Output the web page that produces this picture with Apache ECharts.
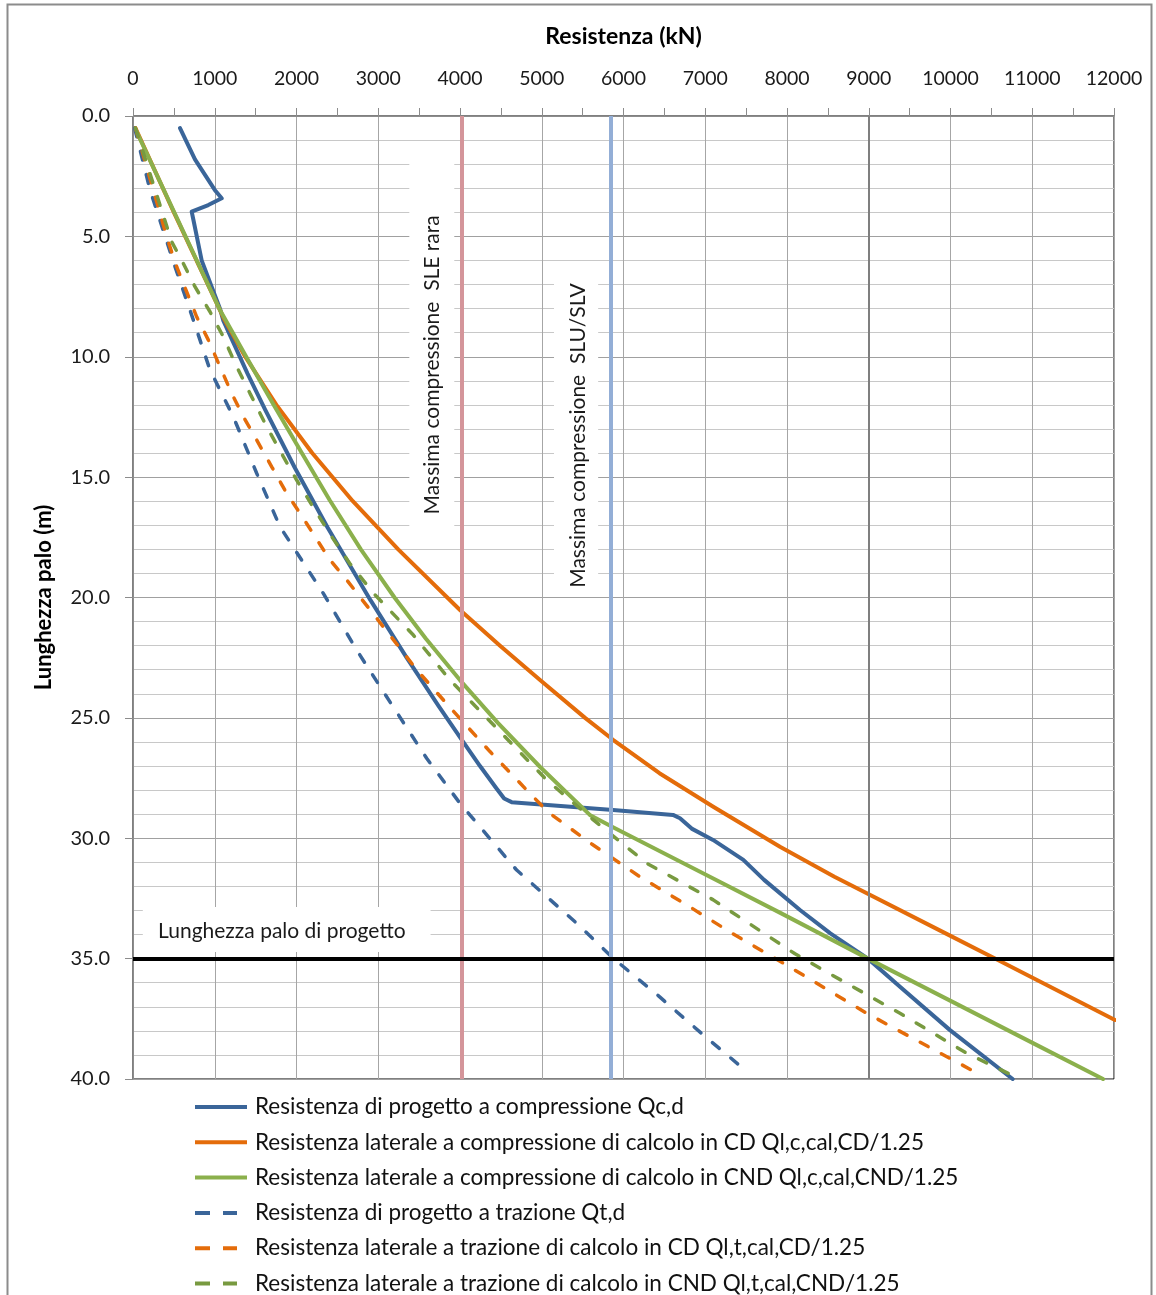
<!DOCTYPE html>
<html>
<head>
<meta charset="utf-8">
<title>Resistenza palo</title>
<script src="https://cdn.jsdelivr.net/npm/echarts@6/dist/echarts.min.js"></script>
<style>
  html, body { margin: 0; padding: 0; background: #ffffff; }
  #chart { width: 1156px; height: 1295px; }
</style>
</head>
<body>
<div id="chart"></div>
<script>
// Pile resistance (kN) versus pile length (m)

// Resistenza di progetto a compressione Qc,d
const depthQcd = [0.5, 1.8, 3.07, 3.42, 3.7, 3.97, 4.3, 6.0, 8.0, 8.5, 10.7, 12.2, 14.6, 17.1, 20.1, 22.5, 24.5, 25.9, 27.0, 27.9, 28.35, 28.5, 28.83, 29.03, 29.17, 29.6, 30.07, 30.9, 31.73, 32.98, 33.95, 35.0, 36.17, 37.97, 40.0];
const valQcd   = [575, 758, 1000, 1085, 921, 718, 738, 840, 1064, 1105, 1401, 1616, 1978, 2382, 2903, 3347, 3737, 4020, 4245, 4440, 4540, 4632, 5872, 6606, 6691, 6834, 7095, 7466, 7720, 8159, 8530, 8990, 9382, 9994, 10760];

// Resistenza laterale a compressione di calcolo in CD
const depthQlcCD = [0.5, 4.0, 8.4, 10.0, 12.0, 14.0, 16.0, 18.0, 20.52, 22.0, 23.43, 25.0, 25.92, 27.3, 28.69, 30.35, 31.6, 33.95, 35.06, 37.55];
const valQlcCD   = [30, 500, 1110, 1373, 1754, 2192, 2689, 3244, 4000, 4490, 4979, 5530, 5876, 6440, 7098, 7914, 8580, 9940, 10580, 12012];

// Resistenza laterale a compressione di calcolo in CND
const depthQlcCND = [0.5, 4.0, 8.06, 10.0, 12.0, 14.0, 15.95, 18.0, 20.0, 21.7, 23.43, 25.2, 27.03, 29.03, 29.52, 31.6, 33.12, 35.0, 36.86, 38.52, 40.0];
const valQlcCND   = [24, 505, 1064, 1385, 1722, 2065, 2405, 2787, 3199, 3581, 3999, 4460, 4977, 5588, 5860, 7056, 7930, 8991, 10061, 11015, 11866];

// Resistenza di progetto a trazione Qt,d
const depthQtd = [0.5, 3.07, 6.26, 8.27, 10.55, 12.49, 14.84, 17.06, 19.83, 22.18, 23.91, 26.68, 28.55, 31.32, 33.53, 34.99, 36.6, 38.14, 39.74];
const valQtd   = [20, 208, 514, 718, 942, 1227, 1513, 1798, 2328, 2736, 3062, 3592, 4000, 4693, 5427, 5876, 6446, 6966, 7527];

// Resistenza laterale a trazione di calcolo in CD
const depthQltCD = [0.5, 5.15, 6.26, 7.3, 8.34, 9.3, 10.41, 11.52, 12.49, 13.46, 14.57, 15.67, 16.5, 17.47, 18.44, 19.27, 21.2, 23.0, 24.6, 26.4, 28.07, 28.92, 30.24, 31.6, 32.77, 33.98, 35.19, 37.27, 39.8];
const valQltCD   = [30, 424, 534, 656, 779, 921, 1064, 1207, 1350, 1513, 1697, 1880, 2043, 2226, 2410, 2614, 3058, 3470, 3886, 4367, 4836, 5080, 5611, 6202, 6773, 7343, 7955, 8975, 10350];

// Resistenza laterale a trazione di calcolo in CND
const depthQltCND = [0.5, 5.22, 6.12, 7.09, 8.13, 9.17, 10.27, 11.52, 12.9, 14.15, 15.12, 16.37, 17.47, 18.58, 19.83, 21.56, 23.43, 25.5, 27.58, 29.24, 31.04, 32.56, 34.8, 35.44, 37.27, 38.93, 40.0];
const valQltCND   = [30, 473, 615, 758, 942, 1105, 1248, 1431, 1635, 1839, 2002, 2226, 2430, 2650, 2944, 3429, 3878, 4470, 5060, 5631, 6284, 7098, 8098, 8424, 9382, 10198, 10850];

// Reference values
const maxCompressionSLE = 4020;   // Massima compressione SLE rara (kN)
const maxCompressionSLU = 5845;   // Massima compressione SLU/SLV (kN)
const capacityMark = 9000;        // resistance at the design length (kN)
const designLength = 35;          // Lunghezza palo di progetto (m)

const seriesNames = [
  'Resistenza di progetto a compressione Qc,d',
  'Resistenza laterale a compressione di calcolo in CD Ql,c,cal,CD/1.25',
  'Resistenza laterale a compressione di calcolo in CND Ql,c,cal,CND/1.25',
  'Resistenza di progetto a trazione Qt,d',
  'Resistenza laterale a trazione di calcolo in CD Ql,t,cal,CD/1.25',
  'Resistenza laterale a trazione di calcolo in CND Ql,t,cal,CND/1.25'
];

const FONT = 'Lato, "Open Sans", sans-serif';
const BLUE = '#3a6599';
const ORANGE = '#e46c0a';
const GREEN = '#8bb04c';
const GREEN_DARK = '#789a40';

// legend swatches: a solid bar, or two short dashes
const ICON_SOLID = 'path://M0,0H52V4H0Z';
const ICON_DASHED = 'path://M0,0H15V4H0Z M28,0H42V4H28Z M51.98,1.99H52V2.01H51.98Z';

function pairs(depths, values) {
  return depths.map((d, i) => [values[i], d]);
}

function curve(name, depths, values, color, dashed) {
  return {
    name: name,
    type: 'line',
    data: pairs(depths, values),
    symbol: 'none',
    showSymbol: false,
    z: 2,
    lineStyle: dashed
      ? { color: color, width: 3.5, type: [9, 15], cap: 'round' }
      : { color: color, width: 4, cap: 'round', join: 'round' },
    itemStyle: { color: color },
    emphasis: { disabled: true }
  };
}

const chart = echarts.init(document.getElementById('chart'), null, { renderer: 'canvas' });

const option = {
  animation: false,
  backgroundColor: '#ffffff',
  grid: {
    left: 133, top: 116, right: 42, bottom: 216,
    show: true, borderColor: '#000000', borderWidth: 1, backgroundColor: 'transparent'
  },
  legend: {
    data: seriesNames.map((n, i) => ({ name: n, icon: i < 3 ? ICON_SOLID : ICON_DASHED })),
    orient: 'vertical',
    left: 195,
    top: 1095.5,
    height: 260,
    padding: 0,
    itemWidth: 52,
    itemHeight: 20,
    itemGap: 12.3,
    selectedMode: false,
    textStyle: { fontFamily: FONT, fontSize: 22.5, color: '#111111', padding: [0, 0, 0, 3] }
  },
  xAxis: {
    type: 'value',
    position: 'top',
    min: 0, max: 12000, interval: 1000,
    name: 'Resistenza (kN)',
    nameLocation: 'middle',
    nameGap: 68,
    nameTextStyle: { fontFamily: FONT, fontSize: 23, fontWeight: 'bold', color: '#000000' },
    axisLine: { show: true, lineStyle: { color: '#8c8c8c', width: 1 } },
    axisTick: { show: true, length: 8, lineStyle: { color: '#8c8c8c' } },
    minorTick: { show: true, splitNumber: 2, length: 8, lineStyle: { color: '#8c8c8c' } },
    axisLabel: { fontFamily: FONT, fontSize: 19.5, color: '#1a1a1a', margin: 27, formatter: v => String(v) },
    splitLine: { show: true, lineStyle: { color: '#a6a6a6', width: 1 } },
    minorSplitLine: { show: false }
  },
  yAxis: {
    type: 'value',
    inverse: true,
    min: 0, max: 40, interval: 5,
    name: 'Lunghezza palo (m)',
    nameLocation: 'middle',
    nameGap: 78,
    nameTextStyle: { fontFamily: FONT, fontSize: 22, fontWeight: 'bold', color: '#000000' },
    axisLine: { show: true, lineStyle: { color: '#8c8c8c', width: 1 } },
    axisTick: { show: true, length: 8, lineStyle: { color: '#8c8c8c' } },
    minorTick: { show: false, splitNumber: 5 },
    axisLabel: { fontFamily: FONT, fontSize: 20, color: '#1a1a1a', margin: 23, formatter: v => v.toFixed(1) },
    splitLine: { show: true, lineStyle: { color: '#a0a0a0', width: 1 } },
    minorSplitLine: { show: true, lineStyle: { color: '#c8c8c8', width: 1 } }
  },
  series: [
    // vertical reference lines, under the curves
    {
      name: 'riferimenti',
      type: 'line',
      data: [],
      z: 1,
      silent: true,
      markLine: {
        silent: true,
        symbol: ['none', 'none'],
        label: { show: false },
        data: [
          { xAxis: capacityMark, lineStyle: { color: '#7f7f7f', width: 2, type: 'solid' } },
          { xAxis: maxCompressionSLE, lineStyle: { color: '#d4959a', width: 4, type: 'solid' } },
          { xAxis: maxCompressionSLU, lineStyle: { color: '#93aed6', width: 4, type: 'solid' } }
        ]
      }
    },
    curve(seriesNames[0], depthQcd, valQcd, BLUE, false),
    curve(seriesNames[1], depthQlcCD, valQlcCD, ORANGE, false),
    curve(seriesNames[2], depthQlcCND, valQlcCND, GREEN, false),
    curve(seriesNames[3], depthQtd, valQtd, BLUE, true),
    curve(seriesNames[4], depthQltCD, valQltCD, ORANGE, true),
    curve(seriesNames[5], depthQltCND, valQltCND, GREEN_DARK, true),
    // design pile length, drawn over the curves
    {
      name: 'lunghezza di progetto',
      type: 'line',
      data: [],
      z: 3,
      silent: true,
      markLine: {
        silent: true,
        symbol: ['none', 'none'],
        label: { show: false },
        data: [
          { yAxis: designLength, lineStyle: { color: '#000000', width: 4, type: 'solid' } }
        ]
      }
    }
  ]
};

chart.setOption(option);

// Text annotations with white backing boxes, anchored to axis coordinates
function px(x, y) {
  return chart.convertToPixel({ gridIndex: 0 }, [x, y]);
}
function box(x0, x1, y0, y1) {
  const a = px(x0, y0), b = px(x1, y1);
  return {
    type: 'rect', z: 1, silent: true,
    shape: { x: a[0], y: a[1], width: b[0] - a[0], height: b[1] - a[1] },
    style: { fill: '#ffffff' }
  };
}
function label(text, x, y, rotated, align) {
  const p = px(x, y);
  return {
    type: 'text', z: 1, silent: true,
    x: p[0], y: p[1],
    rotation: rotated ? Math.PI / 2 : 0,
    style: {
      text: text, fill: '#1a1a1a', fontFamily: FONT, fontSize: 21,
      align: align || 'center', verticalAlign: 'middle'
    }
  };
}

chart.setOption({
  graphic: [
    // outer frame
    {
      type: 'rect', silent: true, z: 0,
      shape: { x: 7.5, y: 4.5, width: 1144, height: 1300 },
      style: { fill: 'none', stroke: '#8c8c8c', lineWidth: 2 }
    },
    box(3380, 3930, 1.4, 17.4),
    label('Massima compressione  SLE rara', 3657, 10.34, true),
    box(5150, 5690, 6.4, 19.8),
    label('Massima compressione  SLU/SLV', 5443, 13.27, true),
    box(120, 3640, 32.86, 34.72),
    label('Lunghezza palo di progetto', 306, 33.85, false, 'left')
  ]
});
</script>
</body>
</html>
